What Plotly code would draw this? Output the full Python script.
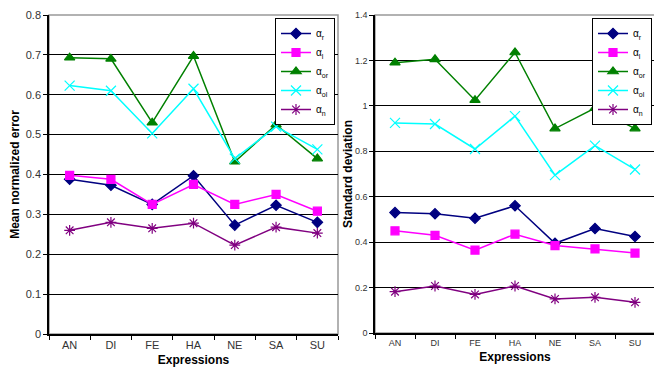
import plotly.graph_objects as go

categories = ["AN", "DI", "FE", "HA", "NE", "SA", "SU"]
series_names = ["α<sub>r</sub>", "α<sub>l</sub>", "α<sub>or</sub>", "α<sub>ol</sub>", "α<sub>n</sub>"]

# Mean normalized error (left)
mean_r = [0.388, 0.373, 0.325, 0.397, 0.273, 0.323, 0.280]
mean_l = [0.398, 0.388, 0.325, 0.375, 0.325, 0.350, 0.308]
mean_or = [0.693, 0.690, 0.530, 0.697, 0.432, 0.525, 0.440]
mean_ol = [0.623, 0.610, 0.503, 0.615, 0.440, 0.520, 0.463]
mean_n = [0.260, 0.280, 0.265, 0.278, 0.223, 0.268, 0.253]

# Standard deviation (right)
std_r = [0.530, 0.525, 0.505, 0.560, 0.395, 0.460, 0.425]
std_l = [0.450, 0.430, 0.365, 0.435, 0.385, 0.370, 0.352]
std_or = [1.190, 1.205, 1.025, 1.235, 0.900, 0.990, 0.900]
std_ol = [0.925, 0.920, 0.810, 0.955, 0.695, 0.825, 0.720]
std_n = [0.182, 0.207, 0.170, 0.207, 0.150, 0.157, 0.135]

left_yticks = [0, 0.1, 0.2, 0.3, 0.4, 0.5, 0.6, 0.7, 0.8]
right_yticks = [0, 0.2, 0.4, 0.6, 0.8, 1.0, 1.2, 1.4]

colors = ["#000080", "#FF00FF", "#008000", "#00FFFF", "#800080"]
symbols = ["diamond", "square", "triangle-up", "x-thin-open", "asterisk-open"]
sizes = [8, 8, 9, 10, 9]

W, H = 662, 373
OFF = 8  # page body margin offset
FONT = "Liberation Sans Narrow, Arial Narrow, Liberation Sans, Arial, sans-serif"

fig = go.Figure()

left = [mean_r, mean_l, mean_or, mean_ol, mean_n]
right = [std_r, std_l, std_or, std_ol, std_n]

for i, vals in enumerate(left):
    fig.add_trace(go.Scatter(
        x=categories, y=vals, name=series_names[i], mode="lines+markers",
        line=dict(color=colors[i], width=1.5),
        marker=dict(symbol=symbols[i], size=sizes[i], color=colors[i],
                    line=dict(color=colors[i], width=1.2)),
        xaxis="x", yaxis="y", legend="legend"))
for i, vals in enumerate(right):
    fig.add_trace(go.Scatter(
        x=categories, y=vals, name=series_names[i], mode="lines+markers",
        line=dict(color=colors[i], width=1.5),
        marker=dict(symbol=symbols[i], size=sizes[i], color=colors[i],
                    line=dict(color=colors[i], width=1.2)),
        xaxis="x2", yaxis="y2", legend="legend2"))

def px_x(p):
    return (p - OFF) / W

def px_y(p):
    return 1 - (p - OFF) / H

lx = [px_x(49), px_x(338)]
ly = [px_y(334), px_y(15)]
rx = [px_x(375), px_x(655)]
ry = [px_y(333), px_y(15)]

xcommon = dict(type="category", tickson="boundaries", ticks="outside", ticklen=4,
               tickcolor="#000", showline=True, linecolor="#000", linewidth=1.5,
               showgrid=False, zeroline=False, automargin=False,
               tickfont=dict(family=FONT, size=11, color="#333"),
               title=dict(text="<b>Expressions</b>", font=dict(family="Liberation Sans, Arial", size=12, color="#000"), standoff=6),
               range=[-0.5, 6.5], fixedrange=True)
ycommon = dict(ticks="outside", ticklen=4, tickcolor="#000", showline=True, linecolor="#000",
               linewidth=1.5, showgrid=True, gridcolor="#000", gridwidth=1, zeroline=False,
               automargin=False, fixedrange=True)

legend_common = dict(xanchor="right", yanchor="top",
                     bordercolor="#000", borderwidth=1, bgcolor="white",
                     font=dict(family="Liberation Sans, Arial", size=10, color="#000"),
                     tracegroupgap=0, itemwidth=30)

fig.update_layout(
    width=W, height=H,
    margin=dict(l=0, r=0, t=0, b=0, autoexpand=False),
    paper_bgcolor="white", plot_bgcolor="white",
    showlegend=True,
    xaxis=dict(domain=lx, anchor="y", **xcommon),
    yaxis=dict(domain=ly, anchor="x", range=[0, 0.8], tickvals=left_yticks,
               ticktext=["0" if v == 0 else f"{v:.1f}" for v in left_yticks],
               tickfont=dict(family=FONT, size=11, color="#333"),
               title=dict(text="<b>Mean normalized error</b>", font=dict(family="Liberation Sans, Arial", size=12, color="#000"), standoff=4),
               **ycommon),
    xaxis2=dict(domain=rx, anchor="y2", **{**xcommon, "tickfont": dict(family=FONT, size=9, color="#333")}),
    yaxis2=dict(domain=ry, anchor="x2", range=[0, 1.4], tickvals=right_yticks,
                ticktext=["0" if v == 0 else ("1" if v == 1 else f"{v:.1f}") for v in right_yticks],
                tickfont=dict(family=FONT, size=9, color="#333"),
                title=dict(text="<b>Standard deviation</b>", font=dict(family="Liberation Sans, Arial", size=12, color="#000"), standoff=0),
                **ycommon),
    legend=dict(x=px_x(335), y=px_y(18), **legend_common),
    legend2=dict(x=px_x(652), y=px_y(18), **legend_common),
    shapes=[
        dict(type="rect", xref="paper", yref="paper", x0=lx[0], x1=lx[1], y0=ly[0], y1=ly[1],
             line=dict(color="#999", width=1.5), layer="below"),
        dict(type="rect", xref="paper", yref="paper", x0=rx[0], x1=rx[1], y0=ry[0], y1=ry[1],
             line=dict(color="#999", width=1.5), layer="below"),
    ],
)

fig.write_html("out.html")
